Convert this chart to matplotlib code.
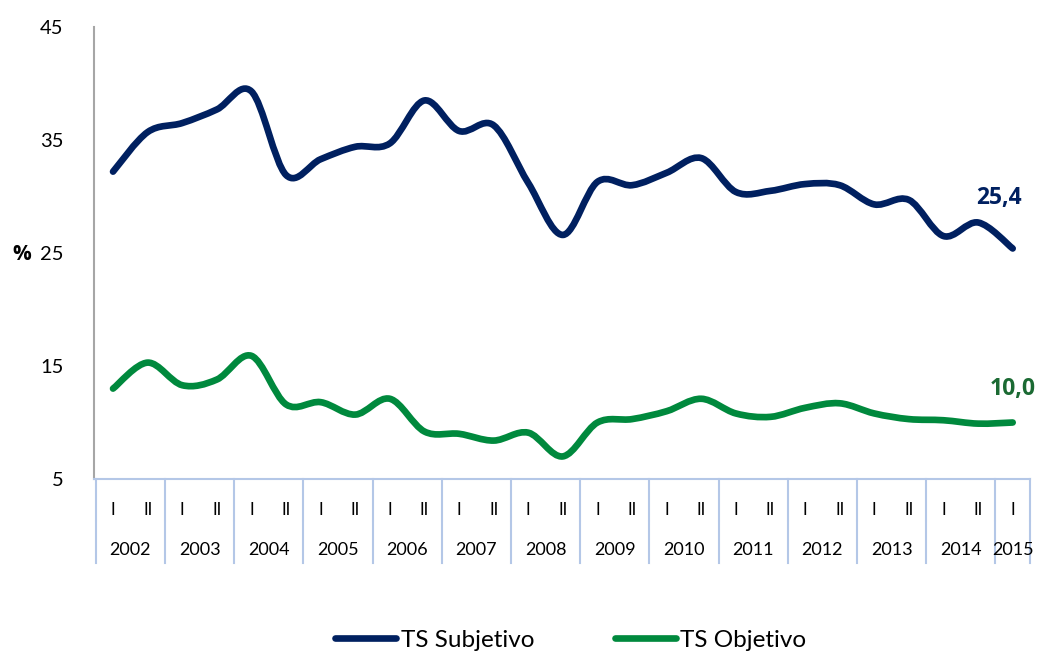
import numpy as np
import matplotlib.pyplot as plt
import matplotlib.transforms as mtransforms
from matplotlib.path import Path
from matplotlib.patches import PathPatch
from matplotlib.lines import Line2D

plt.rcParams['font.family'] = ['Lato', 'DejaVu Sans']

# dados (% por semestre, 2002-I a 2015-I)
anos = [str(a) for a in range(2002, 2016)]
semestres = ['I', 'II'] * 13 + ['I']
ts_subjetivo = [32.2, 35.7, 36.5, 37.7, 39.3, 31.9, 33.3, 34.4, 34.7, 38.5,
                35.8, 36.3, 31.2, 26.6, 31.3, 31.0, 32.1, 33.4, 30.4, 30.5,
                31.1, 31.0, 29.3, 29.7, 26.5, 27.7, 25.4]
ts_objetivo = [13.0, 15.3, 13.3, 13.8, 15.9, 11.6, 11.8, 10.7, 12.1, 9.2,
               9.0, 8.4, 9.1, 7.0, 10.0, 10.3, 11.0, 12.1, 10.8, 10.5,
               11.3, 11.7, 10.8, 10.3, 10.2, 9.9, 10.0]

AZUL = '#002060'
VERDE = '#00893d'


def linha_suave(ax, x, y, cor):
    # curva suavizada estilo Excel (bezier cubica tipo Catmull-Rom)
    pts = np.column_stack([x, y]).astype(float)
    n = len(pts)
    verts = [pts[0]]
    codes = [Path.MOVETO]
    for i in range(n - 1):
        p0 = pts[max(i - 1, 0)]
        p1 = pts[i]
        p2 = pts[i + 1]
        p3 = pts[min(i + 2, n - 1)]
        verts += [p1 + (p2 - p0) / 6, p2 - (p3 - p1) / 6, p2]
        codes += [Path.CURVE4] * 3
    ax.add_patch(PathPatch(Path(verts, codes), facecolor='none', edgecolor=cor,
                           lw=4.8, capstyle='round', joinstyle='round'))


fig = plt.figure(figsize=(10.53, 6.56), dpi=100)
ax = fig.add_axes([94 / 1053, 1 - 479 / 656, (1030 - 94) / 1053, (479 - 27) / 656])

x = np.arange(len(semestres))
linha_suave(ax, x, ts_subjetivo, AZUL)
linha_suave(ax, x, ts_objetivo, VERDE)

ax.set_xlim(-0.55, len(semestres) - 0.5)
ax.set_ylim(5, 45)
ax.set_yticks([5, 15, 25, 35, 45])
ax.tick_params(axis='y', length=0, pad=22, labelsize=14.5)
ax.set_xticks([])

for s in ['top', 'right']:
    ax.spines[s].set_visible(False)
ax.spines['left'].set_color('#a6a6a6')
ax.spines['left'].set_linewidth(1.5)
ax.spines['bottom'].set_color('#b4c7e7')
ax.spines['bottom'].set_linewidth(1.5)

# eixo de categorias em dois niveis
trans = mtransforms.blended_transform_factory(ax.transData, ax.transAxes)
for i, s in enumerate(semestres):
    ax.text(i, -0.068, s, transform=trans, ha='center', va='center', fontsize=12)
for k, a in enumerate(anos):
    xc = 2 * k + 0.5 if k < len(anos) - 1 else 2 * k
    ax.text(xc, -0.156, a, transform=trans, ha='center', va='center', fontsize=13)
limites = list(np.arange(-0.5, len(semestres), 2)) + [len(semestres) - 0.5]
for b in limites:
    ax.plot([b, b], [0, -0.09], transform=trans, color='#b4c7e7', lw=1.5, clip_on=False)
    ax.plot([b, b], [-0.095, -0.185], transform=trans, color='#b4c7e7', lw=1.5, clip_on=False)

# rotulos dos ultimos valores
rot = dict(family=['Open Sans', 'DejaVu Sans'], fontsize=16.5, fontweight='bold',
           ha='center', va='center')
ax.text(26 - 0.4, ts_subjetivo[-1] + 4.5, '25,4', color=AZUL, **rot)
ax.text(26, ts_objetivo[-1] + 3.0, '10,0', color='#1b6a33', **rot)

fig.text(22 / 1053, 1 - 255 / 656, '%', family=['Open Sans', 'DejaVu Sans'],
         fontsize=15, fontweight='bold', ha='center', va='center')

# legenda
handles = [Line2D([], [], color=AZUL, lw=4.8, solid_capstyle='round'),
           Line2D([], [], color=VERDE, lw=4.8, solid_capstyle='round')]
fig.legend(handles, ['TS Subjetivo', 'TS Objetivo'], loc='center',
           bbox_to_anchor=(571 / 1053, 1 - 640 / 656), ncol=2, frameon=False,
           fontsize=17.5, handlelength=2.5, handletextpad=0.2, columnspacing=3.3)

fig.savefig('out.png', dpi=100)
